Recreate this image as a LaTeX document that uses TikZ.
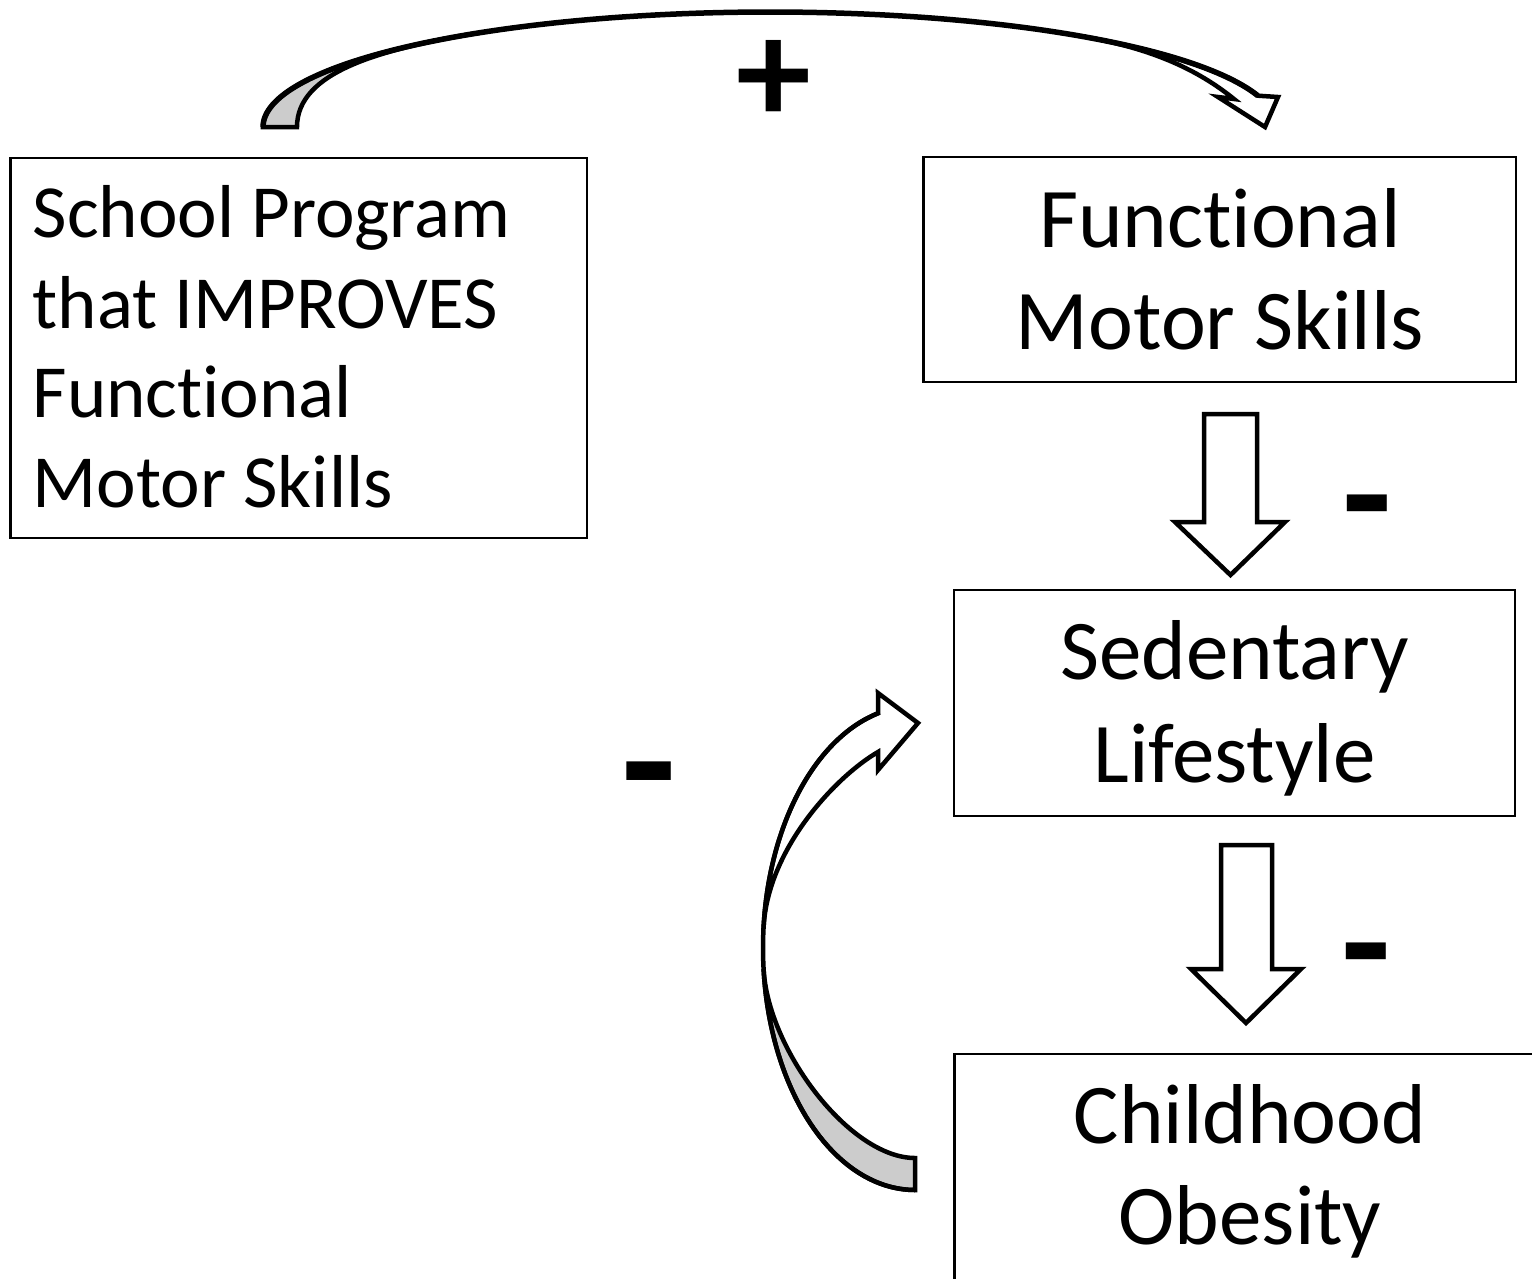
\documentclass[tikz,border=0pt]{standalone}
\usepackage{fontspec}
\setmainfont{Carlito}[Ligatures={NoCommon,NoRequired,NoContextual,NoRare},RawFeature={-liga,-clig,-rlig,-calt,-dlig}]
\usetikzlibrary{calc}
\begin{document}
\begin{tikzpicture}[x=1pt,y=-1pt,
  box/.style={draw=black, line width=2.5pt, inner sep=0pt, outer sep=0pt, anchor=north west},
  lblS/.style={inner sep=0pt, font=\fontsize{75}{90}\selectfont},
  lblL/.style={inner sep=0pt, font=\fontsize{85}{100}\selectfont},
  sign/.style={inner sep=0pt, font=\bfseries\fontsize{162}{162}\selectfont},
  blockarrow/.style={draw=black, fill=white, line width=4.5pt, line join=miter},
  curvearrow/.style={draw=black, line width=4.5pt, line join=miter},
  shade/.style={fill=black!20}]
\useasboundingbox (0,0) rectangle (1532,1278);
\clip (0,0) rectangle (1532,1278);
\fill[white] (0,0) rectangle (1532,1278);

% boxes
\node[box, minimum width=576.3pt, minimum height=380pt] (prog) at (10.7,158) {};
\node[box, minimum width=592.3pt, minimum height=225pt] (fms) at (923.7,157) {};
\node[box, minimum width=561pt, minimum height=226pt] (sed) at (954,590) {};
\node[box, minimum width=591.6pt, minimum height=226pt] (obe) at (954.4,1054) {};

% texts
\node[lblS, anchor=base west] (p1) at (32.5,237) {School Program};
\node[lblS, anchor=base west] (p2) at (32.5,328) {that IMPROVES};
\node[lblS, anchor=base west] (p3) at (32.5,417) {Funct\kern0pt ional};
\node[lblS, anchor=base west] (p4) at (32.5,507) {Motor Skills};
\node[lblL, anchor=base] (f1) at (1220,247) {Funct\kern0pt ional};
\node[lblL, anchor=base] (f2) at (1220,349) {Motor Skills};
\node[lblL, anchor=base] (s1) at (1234.5,679) {Sedentary};
\node[lblL, anchor=base] (s2) at (1234.5,782) {Lifestyle};
\node[lblL, anchor=base] (o1) at (1250,1143) {Childhood};
\node[lblL, anchor=base] (o2) at (1250,1244) {Obesity};

% block arrows
\draw[blockarrow] (1204,414) -- (1257,414) -- (1257,522) -- (1285,522) -- (1230.5,575)
  -- (1175,522) -- (1204,522) -- cycle;
\draw[blockarrow] (1221,845) -- (1272,845) -- (1272,969) -- (1301,969) -- (1246,1023)
  -- (1191,969) -- (1221,969) -- cycle;

% top curved arrow (tail left, head right)
\filldraw[curvearrow, shade] plot[domain=180:235.1, samples=40] ({770+507*cos(\x)},{127+115*sin(\x)})
  .. controls (380,49) and (297,72) .. (297,127) -- cycle;
\filldraw[curvearrow, fill=white] plot[domain=308.7:344.2, samples=30] ({770+507*cos(\x)},{127+115*sin(\x)})
  -- (1278,97) -- (1265,127) -- (1218,97) -- (1234,99)
  .. controls (1203,74) and (1160,50.3) .. (1087,37.3) -- cycle;
\draw[curvearrow, line width=5.5pt] plot[domain=180:344.2, samples=120] ({770+507*cos(\x)},{127+115*sin(\x)});

% left curved arrow (tail bottom, head up-right)
\filldraw[curvearrow, shade] plot[domain=90:175, samples=40] ({915+152*cos(\x)},{948+242*sin(\x)})
  .. controls (768,1050) and (850,1158) .. (915,1158) -- cycle;
\filldraw[curvearrow, fill=white] plot[domain=185:256, samples=40] ({915+152*cos(\x)},{948+242*sin(\x)})
  -- (878,693) -- (918,723) -- (878,770) -- (878,752)
  .. controls (838,775) and (768,847) .. (763.6,926.9) -- cycle;
\draw[curvearrow] plot[domain=90:256, samples=120] ({915+152*cos(\x)},{948+242*sin(\x)});

% signs
\node[sign, font=\bfseries\fontsize{150}{150}\selectfont] (plus) at (774,82) {+};
\node[sign] (m1) at (1367,522) {-};
\node[sign] (m2) at (1366.5,970) {-};
\node[sign, font=\bfseries\fontsize{180}{180}\selectfont] (m3) at (649,792) {-};
\end{tikzpicture}
\end{document}
